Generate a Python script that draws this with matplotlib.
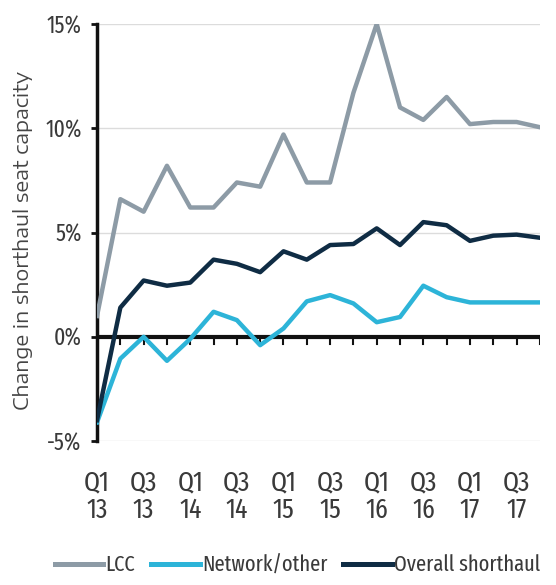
import matplotlib
matplotlib.use("Agg")
import matplotlib.pyplot as plt
from matplotlib.ticker import FuncFormatter

plt.rcParams['font.family'] = ['Fira Sans Extra Condensed', 'PT Sans Narrow', 'DejaVu Sans']

# quarters Q1 13 .. Q4 17
quarters = ['Q1\n13', 'Q2\n13', 'Q3\n13', 'Q4\n13',
            'Q1\n14', 'Q2\n14', 'Q3\n14', 'Q4\n14',
            'Q1\n15', 'Q2\n15', 'Q3\n15', 'Q4\n15',
            'Q1\n16', 'Q2\n16', 'Q3\n16', 'Q4\n16',
            'Q1\n17', 'Q2\n17', 'Q3\n17', 'Q4\n17']

lcc = [1.0, 6.6, 6.0, 8.2, 6.2, 6.2, 7.4, 7.2, 9.7, 7.4,
       7.4, 11.7, 15.0, 11.0, 10.4, 11.5, 10.2, 10.3, 10.3, 10.05]
network = [-4.1, -1.05, 0.0, -1.15, -0.1, 1.2, 0.8, -0.4, 0.4, 1.7,
           2.0, 1.6, 0.7, 0.95, 2.45, 1.9, 1.65, 1.65, 1.65, 1.65]
overall = [-4.0, 1.4, 2.7, 2.45, 2.6, 3.7, 3.5, 3.1, 4.1, 3.7,
           4.4, 4.45, 5.2, 4.4, 5.5, 5.35, 4.6, 4.85, 4.9, 4.75]

c_lcc = '#8d9ba6'
c_net = '#2db4d8'
c_all = '#0f2c44'
txt = '#3a3a3a'

fig = plt.figure(figsize=(5.56, 5.85), dpi=100)
ax = fig.add_axes([0.1745, 0.246, 0.7965, 0.713])

x = list(range(len(quarters)))

for yv in [-5, 5, 10, 15]:
    ax.axhline(yv, color='#dcdcdc', lw=1, zorder=0)
ax.axhline(0, color='#111111', lw=3, zorder=1)
# small ticks on the zero line
for xi in x[1:]:
    ax.plot([xi, xi], [0, -0.35], color='#111111', lw=1.5, zorder=1)

ax.plot(x, lcc, color=c_lcc, lw=3.2, label='LCC', zorder=3)
ax.plot(x, network, color=c_net, lw=3.2, label='Network/other', zorder=3)
ax.plot(x, overall, color=c_all, lw=3.2, label='Overall shorthaul', zorder=4)

ax.set_xlim(0, 19)
ax.set_ylim(-5, 15)
ax.set_yticks([-5, 0, 5, 10, 15])
ax.yaxis.set_major_formatter(FuncFormatter(lambda v, p: '%d%%' % v))
ax.set_xticks(x[::2])
ax.set_xticklabels(quarters[::2], linespacing=1.05)
ax.tick_params(axis='x', length=0, pad=20, labelsize=20, colors=txt)
ax.tick_params(axis='y', length=4, width=2, color='#111111', pad=7,
               labelsize=17, labelcolor=txt)

for s in ['top', 'right', 'bottom']:
    ax.spines[s].set_visible(False)
ax.spines['left'].set_linewidth(2.5)
ax.spines['left'].set_color('#111111')

ax.set_ylabel('Change in shorthaul seat capacity', fontsize=14.5,
              family=['Encode Sans Expanded', 'DejaVu Sans'], color='#444444')
ax.yaxis.set_label_coords(-0.145, 0.48)

leg = fig.legend(loc='center', bbox_to_anchor=(0.535, 0.034), ncol=3,
                 frameon=False, handlelength=2.2,
                 handletextpad=0.1, columnspacing=0.7,
                 prop={'size': 16})
for line in leg.get_lines():
    line.set_linewidth(3.6)
for t in leg.get_texts():
    t.set_color(txt)

fig.savefig('out.png', dpi=100, facecolor='white')
